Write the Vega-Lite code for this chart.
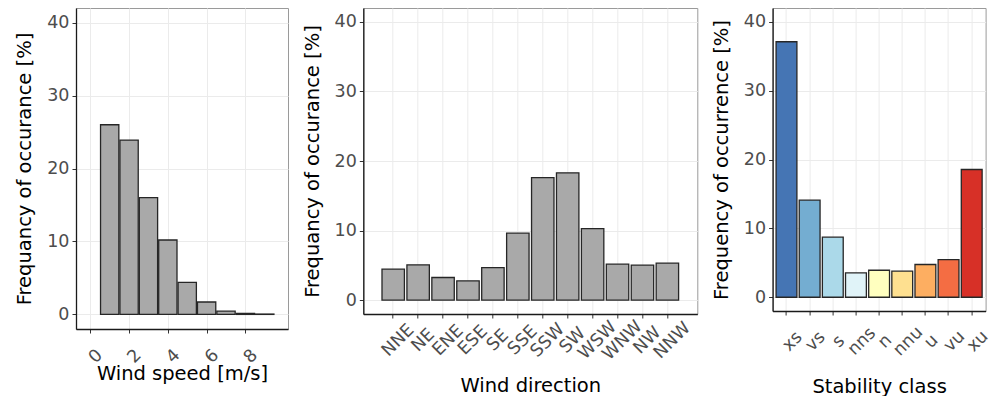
{
  "$schema": "https://vega.github.io/schema/vega-lite/v6.json",
  "padding": {"left": 14, "top": 7, "right": 0, "bottom": 0},
  "spacing": 75.3,
  "bounds": "flush",
  "config": {
    "font": "DejaVu Sans",
    "view": {"stroke": "#9A9A9A", "strokeWidth": 1},
    "axis": {
      "labelFont": "DejaVu Sans", "labelFontSize": 17.5, "labelColor": "#4D4D4D",
      "titleFont": "DejaVu Sans", "titleFontSize": 19.5, "titleFontWeight": "normal", "titleColor": "#000000",
      "gridColor": "#EBEBEB", "gridWidth": 1,
      "domainColor": "#1A1A1A", "domainWidth": 1.3,
      "tickColor": "#333333", "tickSize": 4, "tickWidth": 1,
      "labelFlush": false, "labelOverlap": false
    }
  },
  "datasets": {
    "speed": [
      {"speed": 1, "freq": 26.0}, {"speed": 2, "freq": 23.9}, {"speed": 3, "freq": 16.0},
      {"speed": 4, "freq": 10.2}, {"speed": 5, "freq": 4.4}, {"speed": 6, "freq": 1.7},
      {"speed": 7, "freq": 0.45}, {"speed": 8, "freq": 0.14}, {"speed": 9, "freq": 0.05}
    ],
    "direction": [
      {"dir": "NNE", "freq": 4.45}, {"dir": "NE", "freq": 5.07}, {"dir": "ENE", "freq": 3.25},
      {"dir": "ESE", "freq": 2.77}, {"dir": "SE", "freq": 4.68}, {"dir": "SSE", "freq": 9.62},
      {"dir": "SSW", "freq": 17.6}, {"dir": "SW", "freq": 18.3}, {"dir": "WSW", "freq": 10.28},
      {"dir": "WNW", "freq": 5.17}, {"dir": "NW", "freq": 5.02}, {"dir": "NNW", "freq": 5.31}
    ],
    "stability": [
      {"cls": "xs", "freq": 37.1}, {"cls": "vs", "freq": 14.1}, {"cls": "s", "freq": 8.72},
      {"cls": "nns", "freq": 3.53}, {"cls": "n", "freq": 3.92}, {"cls": "nnu", "freq": 3.78},
      {"cls": "u", "freq": 4.75}, {"cls": "vu", "freq": 5.47}, {"cls": "xu", "freq": 18.55}
    ]
  },
  "hconcat": [
    {
      "width": 212, "height": 321,
      "data": {"name": "speed"},
      "mark": {"type": "bar", "fill": "#A9A9A9", "stroke": "#262626", "strokeWidth": 1.3, "width": 18.3},
      "encoding": {
        "x": {"field": "speed", "type": "quantitative",
          "scale": {"domain": [-0.48, 9.94], "nice": false, "zero": false},
          "axis": {"values": [0, 2, 4, 6, 8], "title": "Wind speed [m/s]", "labelAngle": -45, "labelAlign": "center", "labelBaseline": "middle", "labelPadding": 23, "labelOffset": 5, "titleY": 50, "titleBaseline": "alphabetic"}},
        "y": {"field": "freq", "type": "quantitative",
          "scale": {"domain": [-2, 42], "nice": false, "zero": false},
          "axis": {"values": [0, 10, 20, 30, 40], "title": "Frequancy of occurance [%]", "labelPadding": 3, "titlePadding": 12}},
        "y2": {"datum": 0}
      }
    },
    {
      "width": 334, "height": 306,
      "data": {"name": "direction"},
      "mark": {"type": "bar", "fill": "#A9A9A9", "stroke": "#262626", "strokeWidth": 1.3},
      "encoding": {
        "x": {"field": "dir", "type": "nominal", "sort": null,
          "scale": {"paddingInner": 0.1, "paddingOuter": 0.75},
          "axis": {"title": "Wind direction", "grid": true, "labelAngle": -45, "labelAlign": "center", "labelBaseline": "middle", "labelPadding": 22, "labelOffset": 5, "titleY": 77, "titleBaseline": "alphabetic"}},
        "y": {"field": "freq", "type": "quantitative",
          "scale": {"domain": [-2, 42], "nice": false, "zero": false},
          "axis": {"values": [0, 10, 20, 30, 40], "title": "Frequancy of occurance [%]", "labelPadding": 3, "titlePadding": 12}},
        "y2": {"datum": 0}
      }
    },
    {
      "width": 213, "height": 303,
      "data": {"name": "stability"},
      "mark": {"type": "bar", "stroke": "#262626", "strokeWidth": 1.3},
      "encoding": {
        "x": {"field": "cls", "type": "nominal", "sort": null,
          "scale": {"paddingInner": 0.1, "paddingOuter": 0.15},
          "axis": {"title": "Stability class", "grid": true, "labelAngle": -45, "labelAlign": "center", "labelBaseline": "middle", "labelPadding": 26, "labelOffset": 6, "titleY": 81, "titleBaseline": "alphabetic"}},
        "y": {"field": "freq", "type": "quantitative",
          "scale": {"domain": [-2, 42], "nice": false, "zero": false},
          "axis": {"values": [0, 10, 20, 30, 40], "title": "Frequency of occurrence [%]", "labelPadding": 3, "titlePadding": 12}},
        "y2": {"datum": 0},
        "fill": {"field": "cls", "type": "nominal", "sort": null, "legend": null,
          "scale": {"domain": ["xs", "vs", "s", "nns", "n", "nnu", "u", "vu", "xu"],
            "range": ["#4575B4", "#74ADD1", "#ABD9E9", "#E0F3F8", "#FFFFBF", "#FEE090", "#FDAE61", "#F46D43", "#D73027"]}}
      }
    }
  ]
}
